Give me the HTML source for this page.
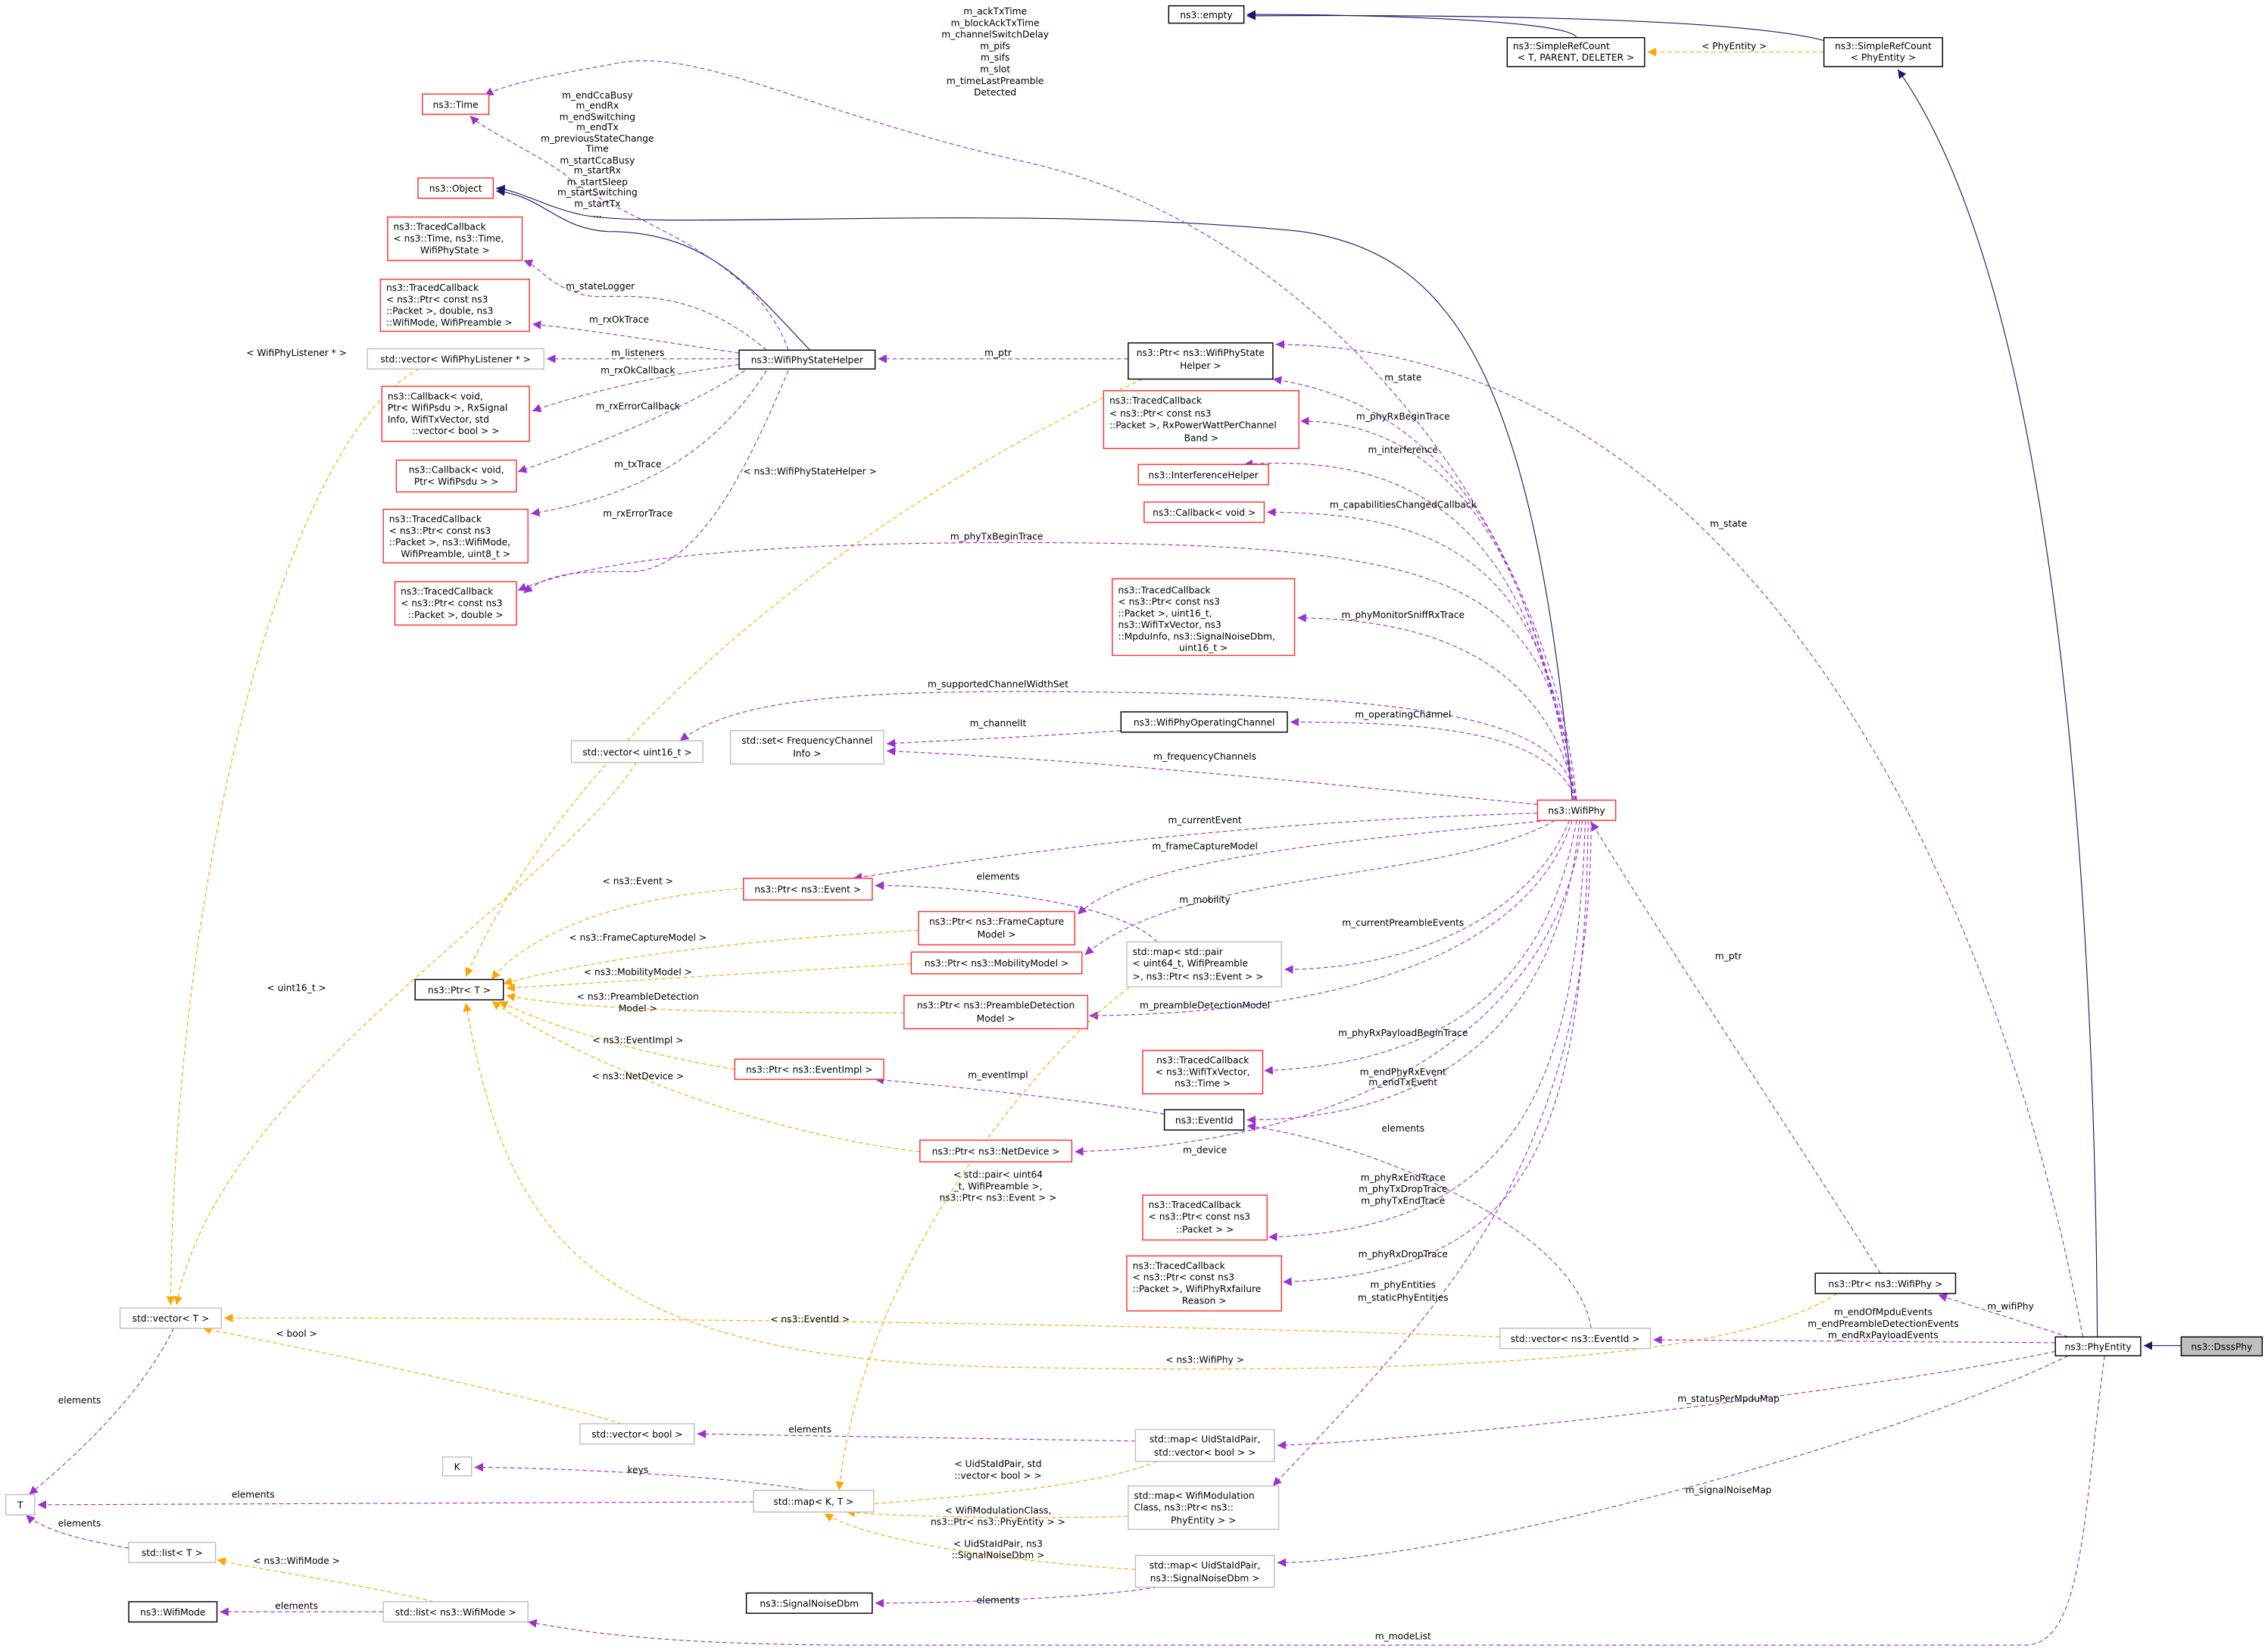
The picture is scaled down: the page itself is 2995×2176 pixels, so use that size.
<!DOCTYPE html>
<html><head><meta charset="utf-8"><style>
html,body{margin:0;padding:0;background:#fff;}
svg{display:block;}
text{font-family:"DejaVu Sans","Liberation Sans",sans-serif;font-size:6.4px;fill:#000;}
.n{fill:#fff;stroke-width:0.75;}
.b{stroke:#000;}
.r{stroke:#ff3030;}
.g{stroke:#bfbfbf;}
.p{fill:none;stroke:#9a32cd;stroke-width:0.6;stroke-dasharray:3,2;marker-end:url(#mp);}
.o{fill:none;stroke:#ffa500;stroke-width:0.6;stroke-dasharray:3,2;marker-end:url(#mo);}
.v{fill:none;stroke:#191970;stroke-width:0.6;marker-end:url(#mv);}
.c{text-anchor:middle;}
</style></head><body>
<svg width="2995" height="2176" viewBox="0 0 1568 1139" preserveAspectRatio="none" xmlns="http://www.w3.org/2000/svg">
<defs>
<marker id="mp" markerUnits="userSpaceOnUse" markerWidth="8" markerHeight="8" refX="6" refY="3" orient="auto"><path d="M0,0 L6,3 L0,6 z" fill="#9a32cd"/></marker>
<marker id="mo" markerUnits="userSpaceOnUse" markerWidth="8" markerHeight="8" refX="6" refY="3" orient="auto"><path d="M0,0 L6,3 L0,6 z" fill="#ffa500"/></marker>
<marker id="mv" markerUnits="userSpaceOnUse" markerWidth="8" markerHeight="8" refX="6" refY="3" orient="auto"><path d="M0,0 L6,3 L0,6 z" fill="#191970"/></marker>
</defs>

<path class="v" d="M1090,26 C1085,14 950,10 862,10"/>
<path class="v" d="M1261,28 C1200,12 1000,10 862,11"/>
<path class="v" d="M1450,924 C1448,600 1420,200 1312,48"/>
<path class="v" d="M1087,553 C1060,250 1000,175 900,160 C700,140 450,160 400,148 C375,142 360,132 343,130"/>
<path class="v" d="M560,242 C520,200 490,160 420,160 C385,158 375,135 343,132"/>
<path class="v" d="M1508,930 L1482,930"/>

<path class="p" d="M1090,553 C1070,350 900,150 700,110 C550,75 480,30 420,45 C380,52 350,58 335,66"/>
<path class="p" d="M545,242 C520,170 420,150 390,120 C360,100 335,90 325,80"/>
<path class="p" d="M530,242 C480,200 440,205 410,205 C380,200 375,185 362,180"/>
<path class="p" d="M511,244 C450,235 400,227 368,224"/>
<path class="p" d="M511,248 L378,248"/>
<path class="p" d="M511,252 C450,260 400,273 368,284"/>
<path class="p" d="M515,256 C470,285 400,312 358,326"/>
<path class="p" d="M530,256 C490,320 430,345 367,355"/>
<path class="p" d="M545,256 C510,340 480,390 440,395 C400,395 380,395 362,410"/>
<path class="p" d="M780,248 L607,248"/>
<path class="p" d="M1088,553 C1060,380 1000,280 880,262"/>
<path class="p" d="M1440,924 C1380,600 1200,240 882,238"/>
<path class="p" d="M1088,553 C1065,400 1010,291 899,291"/>
<path class="p" d="M1088,553 C1065,400 1010,310 860,321"/>
<path class="p" d="M1089,553 C1070,400 1010,354 876,354"/>
<path class="p" d="M1089,553 C1070,400 1010,375 700,375 C500,375 400,390 358,408"/>
<path class="p" d="M1090,553 C1072,470 1010,428 897,427"/>
<path class="p" d="M1090,553 C1080,500 1010,478 700,478 C550,478 500,490 470,512"/>
<path class="p" d="M1090,553 C1072,510 1010,499 892,499"/>
<path class="p" d="M775,505 C700,510 650,512 613,514"/>
<path class="p" d="M1063,556 C900,540 750,525 613,519"/>
<path class="p" d="M1063,562 C850,568 700,590 590,607"/>
<path class="p" d="M1070,567 C950,580 790,590 745,632"/>
<path class="p" d="M1075,567 C1000,610 820,600 750,660"/>
<path class="p" d="M1085,567 C1060,630 980,670 888,670"/>
<path class="p" d="M1087,567 C1060,650 950,700 753,702"/>
<path class="p" d="M1090,567 C1070,680 1000,735 874,740"/>
<path class="p" d="M1092,567 C1080,700 1000,774 862,774"/>
<path class="p" d="M805,770 C750,760 650,750 605,746"/>
<path class="p" d="M1094,567 C1080,700 950,790 743,796"/>
<path class="p" d="M1096,567 C1090,750 1050,850 877,855"/>
<path class="p" d="M1098,567 C1095,800 1050,880 887,886"/>
<path class="p" d="M1100,567 C1100,800 1000,900 880,1027"/>
<path class="p" d="M1300,880 C1250,800 1150,650 1100,568"/>
<path class="p" d="M1430,924 L1340,895"/>
<path class="p" d="M1421,928 L1143,926"/>
<path class="p" d="M1100,918 C1090,850 950,790 862,778"/>
<path class="p" d="M1421,934 C1300,960 1000,995 883,999"/>
<path class="p" d="M1430,937 C1300,1000 1000,1080 883,1080"/>
<path class="p" d="M1455,937 C1440,1050 1440,1137 1400,1137 L600,1137 C450,1137 400,1127 365,1121"/>
<path class="p" d="M785,996 L482,991"/>
<path class="p" d="M560,1030 C500,1020 400,1015 328,1014"/>
<path class="p" d="M521,1038 L26,1040"/>
<path class="p" d="M120,918 C100,960 60,1000 20,1033"/>
<path class="p" d="M89,1070 C60,1065 30,1058 18,1047"/>
<path class="p" d="M800,1097 C750,1105 650,1108 605,1108"/>
<path class="p" d="M265,1114 L152,1114"/>
<path class="p" d="M800,651 C770,620 650,612 605,612"/>

<path class="o" d="M1261,36 L1139,36"/>
<path class="o" d="M290,255 C200,300 120,600 118,902"/>
<path class="o" d="M440,527 C380,620 150,750 122,902"/>
<path class="o" d="M790,262 C600,350 400,500 322,675"/>
<path class="o" d="M515,614 C420,620 360,650 340,677"/>
<path class="o" d="M635,643 C500,650 400,665 348,680"/>
<path class="o" d="M630,666 L350,683"/>
<path class="o" d="M625,700 C500,700 400,698 350,688"/>
<path class="o" d="M508,739 C450,730 380,710 345,692"/>
<path class="o" d="M636,796 C500,780 380,720 340,692"/>
<path class="o" d="M1270,894 C1200,940 1000,950 700,945 C400,940 350,850 322,693"/>
<path class="o" d="M1037,924 C800,915 400,910 155,911"/>
<path class="o" d="M430,984 C350,960 200,930 140,918"/>
<path class="o" d="M800,1010 C750,1030 650,1035 585,1041"/>
<path class="o" d="M780,1048 C700,1050 620,1048 585,1045"/>
<path class="o" d="M790,1085 C700,1080 600,1065 570,1046"/>
<path class="o" d="M785,680 C750,700 600,850 580,1030"/>
<path class="o" d="M300,1107 C250,1095 180,1085 150,1078"/>

<g class="c">
<text x="1199" y="34">&lt; PhyEntity &gt;</text>
<text x="688" y="10">m_ackTxTime</text><text x="688" y="18">m_blockAckTxTime</text><text x="688" y="26">m_channelSwitchDelay</text><text x="688" y="34">m_pifs</text><text x="688" y="42">m_sifs</text><text x="688" y="50">m_slot</text><text x="688" y="58">m_timeLastPreamble</text><text x="688" y="66">Detected</text>
<text x="413" y="68">m_endCcaBusy</text><text x="413" y="75">m_endRx</text><text x="413" y="83">m_endSwitching</text><text x="413" y="90">m_endTx</text><text x="413" y="98">m_previousStateChange</text><text x="413" y="105">Time</text><text x="413" y="113">m_startCcaBusy</text><text x="413" y="120">m_startRx</text><text x="413" y="128">m_startSleep</text><text x="413" y="135">m_startSwitching</text><text x="413" y="143">m_startTx</text><text x="413" y="150">...</text>
<text x="415" y="200">m_stateLogger</text>
<text x="428" y="223">m_rxOkTrace</text>
<text x="441" y="246">m_listeners</text>
<text x="441" y="258">m_rxOkCallback</text>
<text x="441" y="283">m_rxErrorCallback</text>
<text x="441" y="323">m_txTrace</text>
<text x="441" y="357">m_rxErrorTrace</text>
<text x="205" y="246">&lt; WifiPhyListener * &gt;</text>
<text x="560" y="328">&lt; ns3::WifiPhyStateHelper &gt;</text>
<text x="690" y="246">m_ptr</text>
<text x="970" y="263">m_state</text>
<text x="1195" y="364">m_state</text>
<text x="970" y="290">m_phyRxBeginTrace</text>
<text x="970" y="313">m_interference</text>
<text x="970" y="351">m_capabilitiesChangedCallback</text>
<text x="689" y="373">m_phyTxBeginTrace</text>
<text x="970" y="427">m_phyMonitorSniffRxTrace</text>
<text x="690" y="475">m_supportedChannelWidthSet</text>
<text x="970" y="496">m_operatingChannel</text>
<text x="690" y="502">m_channelIt</text>
<text x="833" y="525">m_frequencyChannels</text>
<text x="833" y="569">m_currentEvent</text>
<text x="833" y="587">m_frameCaptureModel</text>
<text x="690" y="608">elements</text>
<text x="833" y="624">m_mobility</text>
<text x="970" y="640">m_currentPreambleEvents</text>
<text x="833" y="697">m_preambleDetectionModel</text>
<text x="970" y="716">m_phyRxPayloadBeginTrace</text>
<text x="970" y="743">m_endPhyRxEvent</text><text x="970" y="750">m_endTxEvent</text>
<text x="690" y="745">m_eventImpl</text>
<text x="970" y="782">elements</text>
<text x="833" y="797">m_device</text>
<text x="970" y="816">m_phyRxEndTrace</text><text x="970" y="824">m_phyTxDropTrace</text><text x="970" y="832">m_phyTxEndTrace</text>
<text x="970" y="869">m_phyRxDropTrace</text>
<text x="970" y="890">m_phyEntities</text><text x="970" y="899">m_staticPhyEntities</text>
<text x="1195" y="663">m_ptr</text>
<text x="1390" y="905">m_wifiPhy</text>
<text x="1302" y="909">m_endOfMpduEvents</text><text x="1302" y="917">m_endPreambleDetectionEvents</text><text x="1302" y="925">m_endRxPayloadEvents</text>
<text x="1195" y="969">m_statusPerMpduMap</text>
<text x="1195" y="1032">m_signalNoiseMap</text>
<text x="970" y="1133">m_modeList</text>
<text x="441" y="611">&lt; ns3::Event &gt;</text>
<text x="441" y="650">&lt; ns3::FrameCaptureModel &gt;</text>
<text x="441" y="674">&lt; ns3::MobilityModel &gt;</text>
<text x="441" y="691">&lt; ns3::PreambleDetection</text><text x="441" y="699">Model &gt;</text>
<text x="441" y="721">&lt; ns3::EventImpl &gt;</text>
<text x="441" y="746">&lt; ns3::NetDevice &gt;</text>
<text x="205" y="685">&lt; uint16_t &gt;</text>
<text x="690" y="814">&lt; std::pair&lt; uint64</text><text x="690" y="822">_t, WifiPreamble &gt;,</text><text x="690" y="830">ns3::Ptr&lt; ns3::Event &gt; &gt;</text>
<text x="833" y="942">&lt; ns3::WifiPhy &gt;</text>
<text x="560" y="914">&lt; ns3::EventId &gt;</text>
<text x="205" y="924">&lt; bool &gt;</text>
<text x="55" y="970">elements</text>
<text x="560" y="990">elements</text>
<text x="441" y="1018">keys</text>
<text x="175" y="1035">elements</text>
<text x="55" y="1055">elements</text>
<text x="690" y="1014">&lt; UidStaIdPair, std</text><text x="690" y="1022">::vector&lt; bool &gt; &gt;</text>
<text x="690" y="1046">&lt; WifiModulationClass,</text><text x="690" y="1054">ns3::Ptr&lt; ns3::PhyEntity &gt; &gt;</text>
<text x="690" y="1069">&lt; UidStaIdPair, ns3</text><text x="690" y="1077">::SignalNoiseDbm &gt;</text>
<text x="205" y="1081">&lt; ns3::WifiMode &gt;</text>
<text x="205" y="1112">elements</text>
<text x="690" y="1108">elements</text>
</g>

<g>
<rect class="n b" x="808" y="4" width="52" height="12"/><text class="c" x="834" y="12.5">ns3::empty</text>
<rect class="n b" x="1042" y="26" width="95" height="20"/><text x="1046" y="34">ns3::SimpleRefCount</text><text class="c" x="1089.5" y="42">&lt; T, PARENT, DELETER &gt;</text>
<rect class="n b" x="1261" y="26" width="82" height="20"/><text class="c" x="1302" y="34">ns3::SimpleRefCount</text><text class="c" x="1302" y="42">&lt; PhyEntity &gt;</text>
<rect class="n r" x="292" y="65" width="46" height="14"/><text class="c" x="315" y="74.5">ns3::Time</text>
<rect class="n r" x="289" y="123" width="52" height="14"/><text class="c" x="315" y="132.5">ns3::Object</text>
<rect class="n r" x="268" y="150" width="93" height="30"/><text x="272" y="159">ns3::TracedCallback</text><text x="272" y="167">&lt; ns3::Time, ns3::Time,</text><text class="c" x="314.5" y="175">WifiPhyState &gt;</text>
<rect class="n r" x="263" y="193" width="103" height="36"/><text x="267" y="201">ns3::TracedCallback</text><text x="267" y="209">&lt; ns3::Ptr&lt; const ns3</text><text x="267" y="217">::Packet &gt;, double, ns3</text><text x="267" y="225">::WifiMode, WifiPreamble &gt;</text>
<rect class="n g" x="254" y="241" width="122" height="14"/><text class="c" x="315" y="250.5">std::vector&lt; WifiPhyListener * &gt;</text>
<rect class="n r" x="264" y="267" width="102" height="38"/><text x="268" y="276">ns3::Callback&lt; void,</text><text x="268" y="284"> Ptr&lt; WifiPsdu &gt;, RxSignal</text><text x="268" y="292">Info, WifiTxVector, std</text><text class="c" x="315" y="300">::vector&lt; bool &gt; &gt;</text>
<rect class="n r" x="274" y="318" width="83" height="22"/><text class="c" x="315.5" y="327">ns3::Callback&lt; void,</text><text class="c" x="315.5" y="335">Ptr&lt; WifiPsdu &gt; &gt;</text>
<rect class="n r" x="265" y="352" width="100" height="37"/><text x="269" y="361">ns3::TracedCallback</text><text x="269" y="369">&lt; ns3::Ptr&lt; const ns3</text><text x="269" y="377">::Packet &gt;, ns3::WifiMode,</text><text class="c" x="315" y="385">WifiPreamble, uint8_t &gt;</text>
<rect class="n r" x="273" y="402" width="84" height="30"/><text x="277" y="411">ns3::TracedCallback</text><text x="277" y="419">&lt; ns3::Ptr&lt; const ns3</text><text class="c" x="315" y="427">::Packet &gt;, double &gt;</text>
<rect class="n b" x="511" y="242" width="94" height="13"/><text class="c" x="558" y="251">ns3::WifiPhyStateHelper</text>
<rect class="n b" x="780" y="237" width="100" height="25"/><text class="c" x="830" y="246">ns3::Ptr&lt; ns3::WifiPhyState</text><text class="c" x="830" y="255">Helper &gt;</text>
<rect class="n r" x="763" y="270" width="135" height="40"/><text x="767" y="279">ns3::TracedCallback</text><text x="767" y="288">&lt; ns3::Ptr&lt; const ns3</text><text x="767" y="296">::Packet &gt;, RxPowerWattPerChannel</text><text class="c" x="830.5" y="305">Band &gt;</text>
<rect class="n r" x="787" y="321" width="90" height="14"/><text class="c" x="832" y="330.5">ns3::InterferenceHelper</text>
<rect class="n r" x="791" y="347" width="83" height="14"/><text class="c" x="832.5" y="356.5">ns3::Callback&lt; void &gt;</text>
<rect class="n r" x="769" y="400" width="126" height="53"/><text x="773" y="410">ns3::TracedCallback</text><text x="773" y="418">&lt; ns3::Ptr&lt; const ns3</text><text x="773" y="426">::Packet &gt;, uint16_t,</text><text x="773" y="434">ns3::WifiTxVector, ns3</text><text x="773" y="442">::MpduInfo, ns3::SignalNoiseDbm,</text><text class="c" x="832" y="450">uint16_t &gt;</text>
<rect class="n b" x="775" y="492" width="115" height="14"/><text class="c" x="832.5" y="501.5">ns3::WifiPhyOperatingChannel</text>
<rect class="n g" x="505" y="505" width="106" height="23"/><text class="c" x="558" y="514">std::set&lt; FrequencyChannel</text><text class="c" x="558" y="523">Info &gt;</text>
<rect class="n g" x="395" y="512" width="91" height="15"/><text class="c" x="440.5" y="522">std::vector&lt; uint16_t &gt;</text>
<rect class="n r" x="1063" y="553" width="54" height="14"/><text class="c" x="1090" y="562.5">ns3::WifiPhy</text>
<rect class="n r" x="514" y="607" width="89" height="15"/><text class="c" x="558.5" y="617">ns3::Ptr&lt; ns3::Event &gt;</text>
<rect class="n r" x="635" y="630" width="108" height="23"/><text class="c" x="689" y="639">ns3::Ptr&lt; ns3::FrameCapture</text><text class="c" x="689" y="648">Model &gt;</text>
<rect class="n r" x="630" y="658" width="118" height="15"/><text class="c" x="689" y="668">ns3::Ptr&lt; ns3::MobilityModel &gt;</text>
<rect class="n g" x="779" y="651" width="107" height="31"/><text x="783" y="660">std::map&lt; std::pair</text><text x="783" y="668">&lt; uint64_t, WifiPreamble</text><text x="783" y="677">&gt;, ns3::Ptr&lt; ns3::Event &gt; &gt;</text>
<rect class="n b" x="287" y="677" width="61" height="14"/><text class="c" x="317.5" y="686.5">ns3::Ptr&lt; T &gt;</text>
<rect class="n r" x="625" y="688" width="127" height="23"/><text class="c" x="688.5" y="697">ns3::Ptr&lt; ns3::PreambleDetection</text><text class="c" x="688.5" y="706">Model &gt;</text>
<rect class="n r" x="790" y="726" width="83" height="30"/><text class="c" x="831.5" y="735">ns3::TracedCallback</text><text class="c" x="831.5" y="743">&lt; ns3::WifiTxVector,</text><text class="c" x="831.5" y="751">ns3::Time &gt;</text>
<rect class="n r" x="508" y="732" width="103" height="14"/><text class="c" x="559.5" y="741.5">ns3::Ptr&lt; ns3::EventImpl &gt;</text>
<rect class="n b" x="805" y="767" width="55" height="14"/><text class="c" x="832.5" y="776.5">ns3::EventId</text>
<rect class="n r" x="636" y="788" width="105" height="15"/><text class="c" x="688.5" y="798">ns3::Ptr&lt; ns3::NetDevice &gt;</text>
<rect class="n r" x="790" y="826" width="86" height="31"/><text x="794" y="835">ns3::TracedCallback</text><text x="794" y="843">&lt; ns3::Ptr&lt; const ns3</text><text class="c" x="833" y="852">::Packet &gt; &gt;</text>
<rect class="n r" x="779" y="868" width="107" height="38"/><text x="783" y="877">ns3::TracedCallback</text><text x="783" y="885">&lt; ns3::Ptr&lt; const ns3</text><text x="783" y="893">::Packet &gt;, WifiPhyRxfailure</text><text class="c" x="832.5" y="901">Reason &gt;</text>
<rect class="n b" x="1255" y="880" width="97" height="14"/><text class="c" x="1303.5" y="889.5">ns3::Ptr&lt; ns3::WifiPhy &gt;</text>
<rect class="n g" x="83" y="904" width="70" height="14"/><text class="c" x="118" y="913.5">std::vector&lt; T &gt;</text>
<rect class="n g" x="1037" y="918" width="104" height="14"/><text class="c" x="1089" y="927.5">std::vector&lt; ns3::EventId &gt;</text>
<rect class="n b" x="1421" y="924" width="59" height="13"/><text class="c" x="1450.5" y="933">ns3::PhyEntity</text>
<rect x="1508" y="924" width="56" height="13" fill="#bfbfbf" stroke="#000" stroke-width="0.75"/><text class="c" x="1536" y="933">ns3::DsssPhy</text>
<rect class="n g" x="401" y="984" width="79" height="14"/><text class="c" x="440.5" y="993.5">std::vector&lt; bool &gt;</text>
<rect class="n g" x="785" y="988" width="96" height="22"/><text class="c" x="833" y="997">std::map&lt; UidStaIdPair,</text><text class="c" x="833" y="1006">std::vector&lt; bool &gt; &gt;</text>
<rect class="n g" x="306" y="1007" width="20" height="13"/><text class="c" x="316" y="1016">K</text>
<rect class="n g" x="4" y="1033" width="20" height="14"/><text class="c" x="14" y="1042.5">T</text>
<rect class="n g" x="521" y="1030" width="83" height="15"/><text class="c" x="562.5" y="1040">std::map&lt; K, T &gt;</text>
<rect class="n g" x="780" y="1027" width="104" height="30"/><text x="784" y="1036">std::map&lt; WifiModulation</text><text x="784" y="1044">Class, ns3::Ptr&lt; ns3::</text><text class="c" x="832" y="1053">PhyEntity &gt; &gt;</text>
<rect class="n g" x="89" y="1066" width="60" height="14"/><text class="c" x="119" y="1075.5">std::list&lt; T &gt;</text>
<rect class="n g" x="785" y="1075" width="96" height="22"/><text class="c" x="833" y="1084">std::map&lt; UidStaIdPair,</text><text class="c" x="833" y="1093">ns3::SignalNoiseDbm &gt;</text>
<rect class="n b" x="89" y="1107" width="61" height="14"/><text class="c" x="119.5" y="1116.5">ns3::WifiMode</text>
<rect class="n g" x="265" y="1107" width="100" height="14"/><text class="c" x="315" y="1116.5">std::list&lt; ns3::WifiMode &gt;</text>
<rect class="n b" x="516" y="1101" width="87" height="14"/><text class="c" x="559.5" y="1110.5">ns3::SignalNoiseDbm</text>
</g>
</svg>
</body></html>
